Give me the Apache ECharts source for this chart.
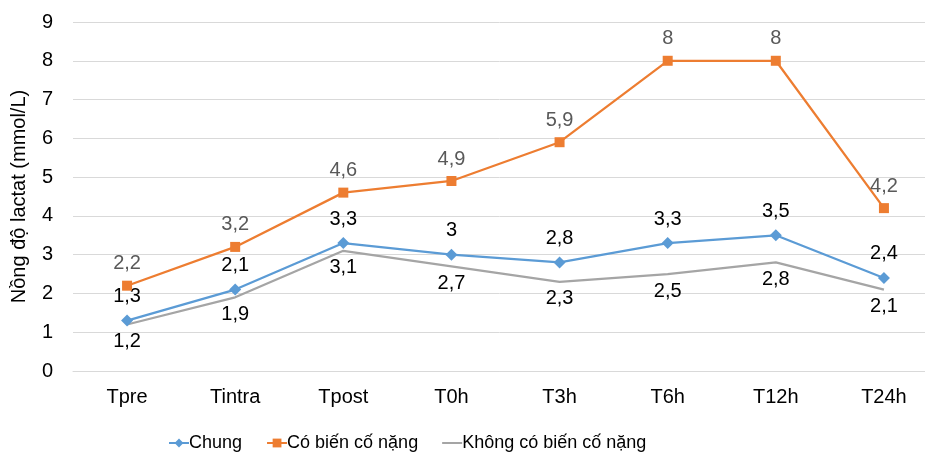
<!DOCTYPE html>
<html>
<head>
<meta charset="utf-8">
<script src="https://cdn.jsdelivr.net/npm/echarts@6/dist/echarts.min.js"></script>
<style>
html,body{margin:0;padding:0;background:#fff;}
#chart{width:925px;height:454px;}
</style>
</head>
<body>
<div id="chart"></div>
<script>
const categories = ['Tpre', 'Tintra', 'Tpost', 'T0h', 'T3h', 'T6h', 'T12h', 'T24h'];
const chung = [1.3, 2.1, 3.3, 3.0, 2.8, 3.3, 3.5, 2.4];
const coBienCo = [2.2, 3.2, 4.6, 4.9, 5.9, 8, 8, 4.2];
const khongBienCo = [1.2, 1.9, 3.1, 2.7, 2.3, 2.5, 2.8, 2.1];
const yTicks = [0, 1, 2, 3, 4, 5, 6, 7, 8, 9];

const font = 'Liberation Sans, Arial, sans-serif';
const comma = p => String(p.value).replace('.', ',');

const chart = echarts.init(document.getElementById('chart'));
chart.setOption({
  animation: false,
  textStyle: { fontFamily: font },
  // plot area runs slightly past the right edge of the canvas
  grid: { left: 73, right: -13, top: 22, bottom: 83, containLabel: false, outerBoundsMode: 'none' },
  legend: {
    top: 429,
    left: 163,
    itemGap: 24,
    itemWidth: 20,
    itemHeight: 11,
    textStyle: { fontFamily: font, fontSize: 18, color: '#000', padding: [0, 0, 0, -5] },
    data: [
      { name: 'Chung' },
      { name: 'Có biến cố nặng' },
      { name: 'Không có biến cố nặng', icon: 'path://M0,0 L20,0 L20,2 L0,2 Z', itemStyle: { color: '#A5A5A5' } }
    ]
  },
  xAxis: {
    type: 'category',
    data: categories,
    boundaryGap: true,
    axisTick: { show: false },
    axisLine: { show: true, lineStyle: { color: '#D9D9D9', width: 1 } },
    axisLabel: { fontFamily: font, fontSize: 20, color: '#000', margin: 16 }
  },
  yAxis: {
    type: 'value',
    min: yTicks[0],
    max: yTicks[yTicks.length - 1],
    interval: 1,
    name: 'Nồng độ lactat (mmol/L)',
    nameLocation: 'middle',
    nameGap: 44,
    nameTextStyle: { fontFamily: font, fontSize: 20, color: '#000' },
    axisLine: { show: false },
    axisTick: { show: false },
    splitLine: { lineStyle: { color: '#D9D9D9', width: 1 } },
    axisLabel: { fontFamily: font, fontSize: 20, color: '#000', margin: 20 }
  },
  series: [
    {
      name: 'Chung',
      type: 'line',
      data: chung,
      symbol: 'diamond',
      symbolSize: 12,
      z: 3,
      itemStyle: { color: '#5B9BD5' },
      lineStyle: { color: '#5B9BD5', width: 2.25 },
      label: { show: true, position: 'top', distance: 8, formatter: comma, fontFamily: font, fontSize: 20, color: '#000' }
    },
    {
      name: 'Có biến cố nặng',
      type: 'line',
      data: coBienCo,
      symbol: 'rect',
      symbolSize: 10,
      z: 4,
      itemStyle: { color: '#ED7D31' },
      lineStyle: { color: '#ED7D31', width: 2.25 },
      label: { show: true, position: 'top', distance: 7, formatter: comma, fontFamily: font, fontSize: 20, color: '#595959' }
    },
    {
      name: 'Không có biến cố nặng',
      type: 'line',
      data: khongBienCo,
      symbol: 'circle',
      symbolSize: 0,
      z: 2,
      itemStyle: { color: '#A5A5A5' },
      lineStyle: { color: '#A5A5A5', width: 2.25 },
      label: { show: true, position: 'bottom', distance: 7, formatter: comma, fontFamily: font, fontSize: 20, color: '#000' }
    }
  ]
});
</script>
</body>
</html>
